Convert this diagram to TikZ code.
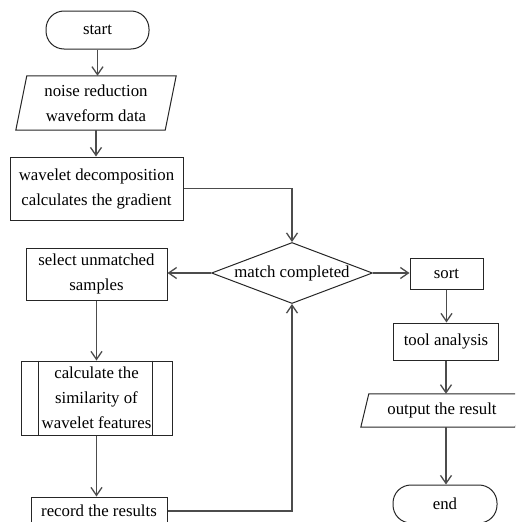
\documentclass[tikz,border=0pt]{standalone}
\usepackage{fontspec}
\setmainfont{Liberation Serif}
\usetikzlibrary{shapes.geometric,arrows.meta}
\begin{document}
\begin{tikzpicture}[x=1pt,y=-1pt,
  every node/.style={font=\fontsize{16.8}{25}\selectfont, align=center, inner sep=0pt},
  box/.style={draw=black!85, line width=1pt, rectangle},
  pill/.style={box, rounded corners=18pt},
  decision/.style={draw=black!85, line width=1pt, diamond, aspect=2.6},
  conn/.style={draw=black!70, line width=1.3pt},
  arr/.style={conn, -{Straight Barb[length=8pt,width=11pt]}},
]
\useasboundingbox (0,0) rectangle (515,522);
\clip (0,0) rectangle (515,522);

\node[pill, minimum width=103pt, minimum height=38pt] (start) at (97.5,30) {start};
\node[minimum width=149pt, minimum height=54pt] (noise) at (96,103) {noise reduction\\waveform data};
\draw[box] ([xshift=5.5pt]noise.north west) -- ([xshift=5.5pt]noise.north east) -- ([xshift=-5.5pt]noise.south east) -- ([xshift=-5.5pt]noise.south west) -- cycle;
\node[box, minimum width=173pt, minimum height=63pt] (wave) at (96.5,188.5) {wavelet decomposition\\calculates the gradient};
\node[decision, minimum width=161pt, minimum height=61pt] (match) at (292,273) {match completed};
\node[box, minimum width=141pt, minimum height=52pt] (select) at (96.5,274) {select unmatched\\samples};
\node[box, minimum width=151pt, minimum height=74pt] (calc) at (96.5,398) {calculate the\\similarity of\\wavelet features};
\draw[box] ([xshift=18pt]calc.north west) -- ([xshift=18pt]calc.south west)
           ([xshift=-20pt]calc.north east) -- ([xshift=-20pt]calc.south east);
\node[box, minimum width=136pt, minimum height=28pt] (record) at (99,511) {record the results};
\node[box, minimum width=73pt, minimum height=31pt] (sort) at (446.5,273.5) {sort};
\node[box, minimum width=105pt, minimum height=37pt] (tool) at (446,341.5) {tool analysis};
\node[minimum width=154pt, minimum height=33pt] (out) at (442,410.5) {output the result};
\draw[box] ([xshift=4pt]out.north west) -- ([xshift=4pt]out.north east) -- ([xshift=-4pt]out.south east) -- ([xshift=-4pt]out.south west) -- cycle;
\node[pill, minimum width=104pt, minimum height=38pt] (end) at (445,504) {end};

\draw[arr] (start.south) -- (start.south |- noise.north);
\draw[arr] (noise.south) -- (noise.south |- wave.north);
\draw[arr] (wave.east) -| (match.north);
\draw[arr] (match.west) -- (match.west -| select.east);
\draw[arr] (select.south) -- (select.south |- calc.north);
\draw[arr] (calc.south) -- (calc.south |- record.north);
\draw[arr] (record.east) -| (match.south);
\draw[arr] (match.east) -- (match.east -| sort.west);
\draw[arr] (sort.south) -- (sort.south |- tool.north);
\draw[arr] (tool.south) -- (tool.south |- out.north);
\draw[arr] (out.south -| tool.south) -- (tool.south |- end.north);
\end{tikzpicture}
\end{document}
